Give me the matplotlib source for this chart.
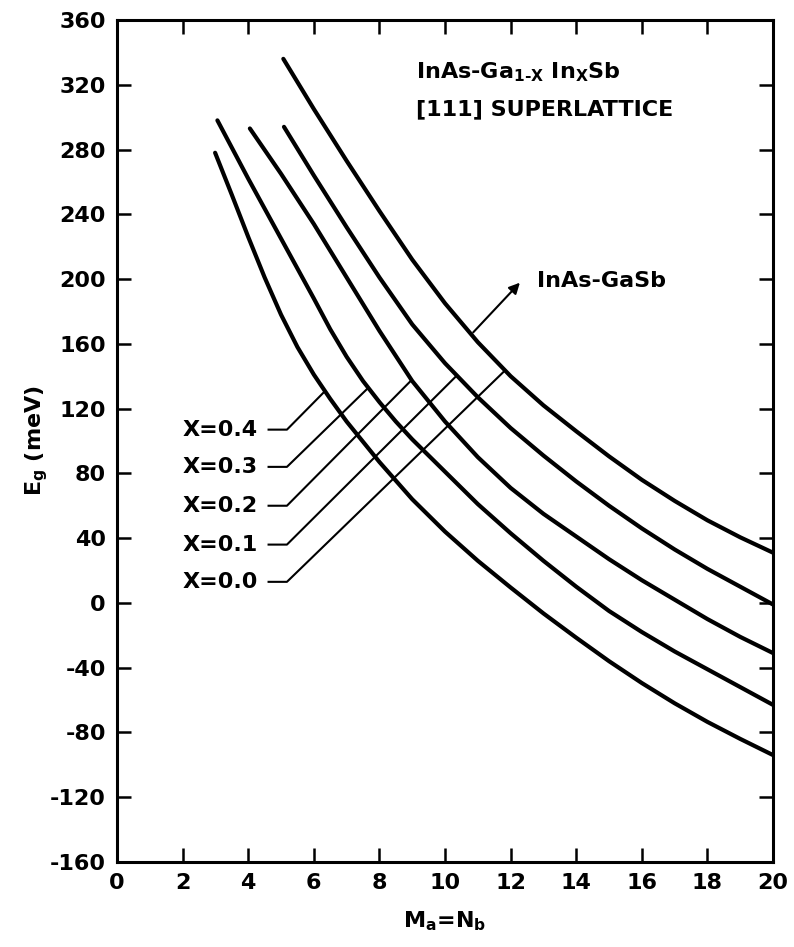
import numpy as np
import matplotlib.pyplot as plt

plt.rcParams['font.family'] = 'DejaVu Sans'
plt.rcParams['font.weight'] = 'bold'
plt.rcParams['axes.labelweight'] = 'bold'
plt.rcParams['axes.unicode_minus'] = False
plt.rcParams['mathtext.fontset'] = 'custom'
plt.rcParams['mathtext.rm'] = 'DejaVu Sans:bold'
plt.rcParams['mathtext.it'] = 'DejaVu Sans:bold'
plt.rcParams['mathtext.default'] = 'rm'

# band gap curves, Eg (meV) vs Ma = Nb
x_00 = [5.07, 6, 7, 8, 9, 10, 11, 12, 13, 14, 15, 16, 17, 18, 19, 20]
eg_00 = [336, 305, 273, 242, 212, 185, 161, 140, 122, 106, 90.5, 76, 63, 51, 40.5, 31]

x_01 = [5.09, 6, 7, 8, 9, 10, 11, 12, 13, 14, 15, 16, 17, 18, 19, 20]
eg_01 = [294, 264, 232, 201, 172, 148, 127, 108, 91, 75, 60, 46, 33, 21, 10, -1]

x_02 = [4.05, 5, 6, 7, 8, 9, 10, 11, 12, 13, 14, 15, 16, 17, 18, 19, 20]
eg_02 = [293, 265, 234, 201, 168, 137, 112, 90, 71, 55, 41, 27, 14, 2, -10, -21, -31]

x_03 = [3.06, 4, 5, 6, 6.5, 7, 7.5, 8, 8.5, 9, 10, 11, 12, 13, 14, 15, 16, 17, 18, 19, 20]
eg_03 = [298, 262, 225, 188, 169, 152, 137, 124, 112, 101, 81, 61, 43, 26, 10, -5, -18, -30, -41, -52, -63]

x_04 = [2.99, 3.5, 4, 4.5, 5, 5.5, 6, 6.5, 7, 8, 9, 10, 11, 12, 13, 14, 15, 16, 17, 18, 19, 20]
eg_04 = [278, 252, 226, 201, 178, 158, 141, 126, 112, 87, 64, 44, 26, 9.5, -6.5, -21.5, -36, -49.5, -62, -73.5, -84, -94]

labels = ['X=0.4', 'X=0.3', 'X=0.2', 'X=0.1', 'X=0.0']
label_y = [107, 84, 60, 36, 13]
hit_x = [6.34, 7.66, 8.98, 10.36, 11.83]

curves = [(x_04, eg_04), (x_03, eg_03), (x_02, eg_02), (x_01, eg_01), (x_00, eg_00)]

fig = plt.figure(figsize=(7.94, 9.47), dpi=100)
ax = fig.add_axes([0.1474, 0.0898, 0.8262, 0.8891])

for xs, ys in curves:
    ax.plot(xs, ys, color='black', lw=3, solid_capstyle='round', solid_joinstyle='round')

# leader lines from the X labels to their curves
for (xs, ys), lab, ly, hx in zip(curves, labels, label_y, hit_x):
    hy = np.interp(hx, xs, ys)
    ax.plot([4.62, 5.18, hx], [ly, ly, hy], color='black', lw=1.5)
    ax.text(4.3, ly, lab, ha='right', va='center', fontsize=16)

# InAs-GaSb arrow
tail_x = 10.8
tail_y = np.interp(tail_x, x_00, eg_00)
ax.annotate('', xy=(12.34, 199), xytext=(tail_x, tail_y),
            arrowprops=dict(arrowstyle='-|>', lw=1.5, color='black', mutation_scale=16))
ax.text(12.8, 199, 'InAs-GaSb', ha='left', va='center', fontsize=16)

ax.text(9.1, 328, r'InAs-Ga$_{1\text{-}X}$ In$_X$Sb', ha='left', va='center', fontsize=16)
ax.text(9.1, 305, '[111] SUPERLATTICE', ha='left', va='center', fontsize=16)

ax.set_xlim(0, 20)
ax.set_ylim(-160, 360)
ax.set_xticks(range(0, 21, 2))
ax.set_yticks(range(-160, 361, 40))
ax.tick_params(direction='in', length=10, width=1.8, top=True, right=True,
               labelsize=16, pad=8)
for s in ax.spines.values():
    s.set_linewidth(2.2)

ax.set_xlabel(r'M$_a$=N$_b$', fontsize=16, labelpad=12)
ax.set_ylabel(r'E$_g$ (meV)', fontsize=16, labelpad=0)

fig.savefig('out.png', dpi=100)
